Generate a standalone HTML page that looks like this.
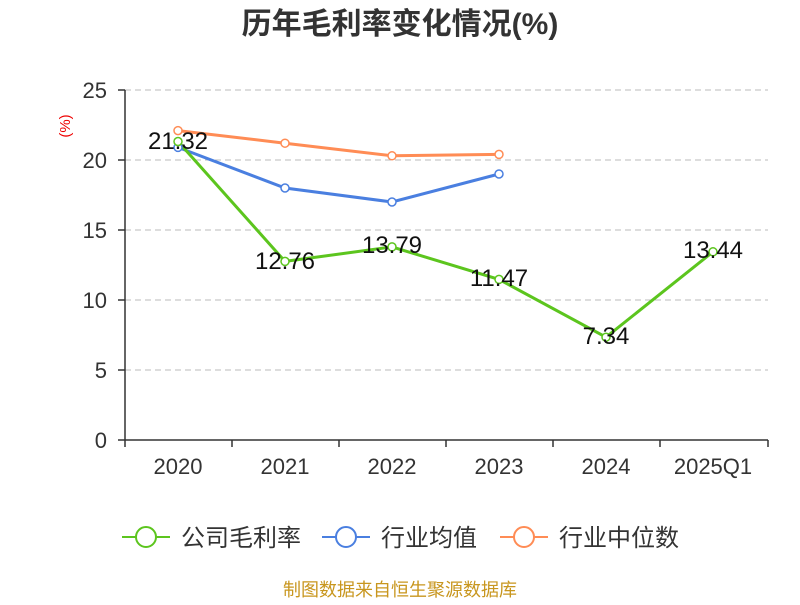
<!DOCTYPE html>
<html><head><meta charset="utf-8"><style>
body{margin:0;background:#fff;}
svg text{font-family:"Liberation Sans","Noto Sans CJK SC",sans-serif;}
</style></head><body>
<svg width="800" height="600" xmlns="http://www.w3.org/2000/svg">
<rect width="800" height="600" fill="#fff"/>
<text x="400" y="34" text-anchor="middle" font-size="30" font-weight="bold" fill="#333">历年毛利率变化情况(%)</text>
<text x="70" y="126" text-anchor="middle" font-size="15" fill="#e00" transform="rotate(-90 70 126)">(%)</text>
<g stroke="#bbb" stroke-dasharray="6,4" stroke-width="1">
<line x1="125" y1="90" x2="768" y2="90"/><line x1="125" y1="160" x2="768" y2="160"/>
<line x1="125" y1="230" x2="768" y2="230"/><line x1="125" y1="300" x2="768" y2="300"/>
<line x1="125" y1="370" x2="768" y2="370"/>
</g>
<g stroke="#333" stroke-width="1.5">
<line x1="125" y1="90" x2="125" y2="440"/><line x1="125" y1="440" x2="768" y2="440"/>
<line x1="118" y1="90" x2="125" y2="90"/><line x1="118" y1="160" x2="125" y2="160"/>
<line x1="118" y1="230" x2="125" y2="230"/><line x1="118" y1="300" x2="125" y2="300"/>
<line x1="118" y1="370" x2="125" y2="370"/><line x1="118" y1="440" x2="125" y2="440"/>
<line x1="125" y1="440" x2="125" y2="447"/><line x1="232" y1="440" x2="232" y2="447"/>
<line x1="339" y1="440" x2="339" y2="447"/><line x1="446" y1="440" x2="446" y2="447"/>
<line x1="553" y1="440" x2="553" y2="447"/><line x1="660" y1="440" x2="660" y2="447"/>
<line x1="768" y1="440" x2="768" y2="447"/>
</g>
<g font-size="22" fill="#333" text-anchor="end">
<text x="107" y="98">25</text><text x="107" y="168">20</text><text x="107" y="238">15</text>
<text x="107" y="308">10</text><text x="107" y="378">5</text><text x="107" y="448">0</text>
</g>
<g font-size="22" fill="#333" text-anchor="middle">
<text x="178" y="474">2020</text><text x="285" y="474">2021</text><text x="392" y="474">2022</text>
<text x="499" y="474">2023</text><text x="606" y="474">2024</text><text x="713" y="474">2025Q1</text>
</g>
<polyline points="178,130.6 285,143.2 392,155.8 499,154.4" fill="none" stroke="#ff8c55" stroke-width="3"/>
<polyline points="178,147.4 285,188 392,202 499,174" fill="none" stroke="#4a7fe0" stroke-width="3"/>
<polyline points="178,141.5 285,261.4 392,246.9 499,279.4 606,337.2 713,251.8" fill="none" stroke="#5cc51e" stroke-width="3"/>
<g fill="#fff" stroke-width="1.5">
<g stroke="#ff8c55"><circle cx="178" cy="130.6" r="4"/><circle cx="285" cy="143.2" r="4"/><circle cx="392" cy="155.8" r="4"/><circle cx="499" cy="154.4" r="4"/></g>
<g stroke="#4a7fe0"><circle cx="178" cy="147.4" r="4"/><circle cx="285" cy="188" r="4"/><circle cx="392" cy="202" r="4"/><circle cx="499" cy="174" r="4"/></g>
<g stroke="#5cc51e"><circle cx="178" cy="141.5" r="4"/><circle cx="285" cy="261.4" r="4"/><circle cx="392" cy="246.9" r="4"/><circle cx="499" cy="279.4" r="4"/><circle cx="606" cy="337.2" r="4"/><circle cx="713" cy="251.8" r="4"/></g>
</g>
<g font-size="24" fill="#111" text-anchor="middle">
<text x="178" y="149">21.32</text><text x="285" y="269">12.76</text><text x="392" y="253">13.79</text>
<text x="499" y="286">11.47</text><text x="606" y="344">7.34</text><text x="713" y="258">13.44</text>
</g>
<g stroke-width="2" fill="#fff">
<line x1="122" y1="537" x2="170" y2="537" stroke="#5cc51e"/><circle cx="146" cy="537" r="10" stroke="#5cc51e"/>
<line x1="322" y1="537" x2="370" y2="537" stroke="#4a7fe0"/><circle cx="346" cy="537" r="10" stroke="#4a7fe0"/>
<line x1="500" y1="537" x2="548" y2="537" stroke="#ff8c55"/><circle cx="524" cy="537" r="10" stroke="#ff8c55"/>
</g>
<g font-size="24" fill="#333">
<text x="181" y="546">公司毛利率</text><text x="381" y="546">行业均值</text><text x="559" y="546">行业中位数</text>
</g>
<text x="400" y="596" text-anchor="middle" font-size="18" fill="#c8961e">制图数据来自恒生聚源数据库</text>
</svg>
</body></html>
